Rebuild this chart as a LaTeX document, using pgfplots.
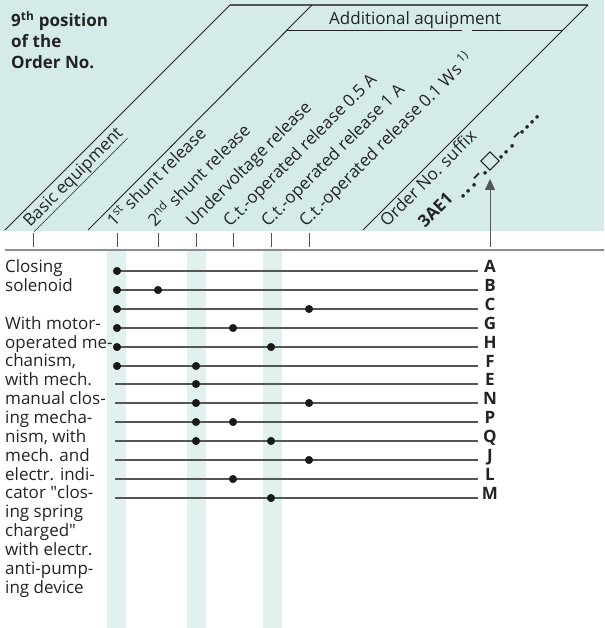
\documentclass[border=0pt]{standalone}
\usepackage{fontspec}
\setmainfont{Open Sans}
\usepackage{pgfplots}
\pgfplotsset{compat=1.18}
\usetikzlibrary{arrows.meta}
\definecolor{headbg}{RGB}{212,235,234}
\definecolor{bandbg}{RGB}{224,241,240}
\definecolor{ink}{RGB}{35,35,35}
\definecolor{rowc}{RGB}{85,85,85}
\definecolor{sepc}{RGB}{140,140,140}
\newcommand{\dd}{.\kern1.4pt}

\begin{document}
\fontsize{17}{21}\selectfont
\begin{tikzpicture}
\begin{axis}[
  hide axis, scale only axis,
  width=604pt, height=628pt,
  xmin=0, xmax=604, ymin=0, ymax=628,
  y dir=reverse, clip=false,
]
\path (axis cs:0,0) rectangle (axis cs:604,628);

% header background and shaded columns
\addplot[fill=headbg, draw=none] coordinates {(0,0) (604,0) (604,231) (0,231)} -- cycle;
\addplot[fill=bandbg, draw=none] coordinates {(107,251) (126,251) (126,628) (107,628)} -- cycle;
\addplot[fill=bandbg, draw=none] coordinates {(187,251) (206,251) (206,628) (187,628)} -- cycle;
\addplot[fill=bandbg, draw=none] coordinates {(263,251) (282,251) (282,628) (263,628)} -- cycle;

% header frame
\draw[rowc, line width=1.3pt] (axis cs:230,5) -- (axis cs:588,5);
\draw[ink, line width=0.9pt] (axis cs:230,5) -- (axis cs:5,230);
\draw[ink, line width=0.9pt] (axis cs:312,5) -- (axis cs:88,230);
\draw[ink, line width=0.9pt] (axis cs:588,5) -- (axis cs:363,230);
\draw[ink, line width=0.9pt] (axis cs:287,30) -- (axis cs:462,30);
\draw[ink, line width=0.9pt] (axis cs:472,30) -- (axis cs:563,30);

% ticks and separator
\draw[sepc, line width=1.4pt] (axis cs:5,250) -- (axis cs:604,250);
\pgfplotsinvokeforeach{33,117,158,196,233,271,309}{
  \draw[rowc, line width=1pt] (axis cs:#1,233) -- (axis cs:#1,247);
}
\draw[rowc, line width=1pt, -{Triangle[length=11pt,width=10pt]}] (axis cs:490,247) -- (axis cs:490,179);

% rows
\addplot[rowc, line width=1.1pt] coordinates {(115,271) (478,271)};
\addplot[rowc, line width=1.1pt] coordinates {(115,290) (478,290)};
\addplot[rowc, line width=1.1pt] coordinates {(115,309) (478,309)};
\addplot[rowc, line width=1.1pt] coordinates {(115,328) (478,328)};
\addplot[rowc, line width=1.1pt] coordinates {(115,347) (478,347)};
\addplot[rowc, line width=1.1pt] coordinates {(115,366) (478,366)};
\addplot[rowc, line width=1.1pt] coordinates {(115,384) (478,384)};
\addplot[rowc, line width=1.1pt] coordinates {(115,403) (478,403)};
\addplot[rowc, line width=1.1pt] coordinates {(115,422) (478,422)};
\addplot[rowc, line width=1.1pt] coordinates {(115,441) (478,441)};
\addplot[rowc, line width=1.1pt] coordinates {(115,460) (478,460)};
\addplot[rowc, line width=1.1pt] coordinates {(115,479) (478,479)};
\addplot[rowc, line width=1.1pt] coordinates {(115,498) (478,498)};

% dots
\addplot[only marks, mark=*, mark size=3.8pt, color=black!90] coordinates {
  (117,271)
  (117,290) (158,290)
  (117,309) (309,309)
  (117,328) (233,328)
  (117,347) (271,347)
  (117,366) (196,366)
  (196,384)
  (196,403) (309,403)
  (196,422) (233,422)
  (196,441) (271,441)
  (309,460)
  (233,479)
  (271,498)
};

% row letters
\begin{scope}[every node/.style={anchor=base, inner sep=0pt, text=ink, font=\bfseries}]
\node at (axis cs:490,272) {A};
\node at (axis cs:490,291) {B};
\node at (axis cs:490,310) {C};
\node at (axis cs:490,329) {G};
\node at (axis cs:490,348) {H};
\node at (axis cs:490,367) {F};
\node at (axis cs:490,385) {E};
\node at (axis cs:490,404) {N};
\node at (axis cs:490,423) {P};
\node at (axis cs:490,442) {Q};
\node at (axis cs:490,461) {J};
\node at (axis cs:490,480) {L};
\node at (axis cs:490,499) {M};
\end{scope}

% left description
\begin{scope}[every node/.style={anchor=base west, inner sep=0pt, text=ink}]
\node at (axis cs:5,272) {Closing};
\node at (axis cs:5,291) {solenoid};
\node at (axis cs:5,329) {With motor-};
\node at (axis cs:5,348) {operated me-};
\node at (axis cs:5,366) {chanism,};
\node at (axis cs:5,385) {with mech.};
\node at (axis cs:5,404) {manual clos-};
\node at (axis cs:5,423) {ing mecha-};
\node at (axis cs:5,442) {nism, with};
\node at (axis cs:5,461) {mech. and};
\node at (axis cs:5,480) {electr. indi-};
\node at (axis cs:5,498) {cator \textquotedbl clos-};
\node at (axis cs:5,517) {ing spring};
\node at (axis cs:5,536) {charged\textquotedbl};
\node at (axis cs:5,555) {with electr.};
\node at (axis cs:5,574) {anti-pump-};
\node at (axis cs:5,593) {ing device};
\end{scope}

% header texts
\begin{scope}[every node/.style={anchor=base west, inner sep=0pt, text=ink}]
\node[font=\bfseries] at (axis cs:11,27) {9\textsuperscript{th} position};
\node[font=\bfseries] at (axis cs:11,48) {of the};
\node[font=\bfseries] at (axis cs:11,69) {Order No.};
\node at (axis cs:329,25) {Additional aquipment};
\end{scope}

\begin{scope}[every node/.style={anchor=base west, inner sep=0pt, text=ink, rotate=45}]
\node at (axis cs:30,228) {\underline{Basic equipment}};
\node at (axis cs:114,228) {1\textsuperscript{st} shunt release};
\node at (axis cs:155,228) {2\textsuperscript{nd} shunt release};
\node at (axis cs:193,228) {Undervoltage release};
\node at (axis cs:230,228) {C.t.-operated release 0.5 A};
\node at (axis cs:268,228) {C.t.-operated release 1 A};
\node at (axis cs:306,228) {C.t.-operated release 0.1 Ws \textsuperscript{1)}};
\node at (axis cs:387,228) {Order No. suffix};
\node[font=\bfseries] at (axis cs:425,229) {3AE1};
\end{scope}

% order number pattern
\begin{scope}[every node/.style={anchor=center, inner sep=0pt, text=ink, rotate=45, font=\bfseries\fontsize{21}{21}\selectfont}]
\node at (axis cs:469,191) {\dd\dd.};
\node[font=\bfseries] at (axis cs:478,178) {–};
\node at (axis cs:486,173) {.};
\node at (axis cs:507,152) {\dd\dd.};
\node[font=\bfseries] at (axis cs:518,137) {–};
\node at (axis cs:530,125) {\dd\dd\dd.};
\end{scope}
\node[draw=ink, line width=1pt, minimum size=13pt, inner sep=0pt, rotate=45] at (axis cs:490,161) {};
\end{axis}
\end{tikzpicture}
\end{document}
